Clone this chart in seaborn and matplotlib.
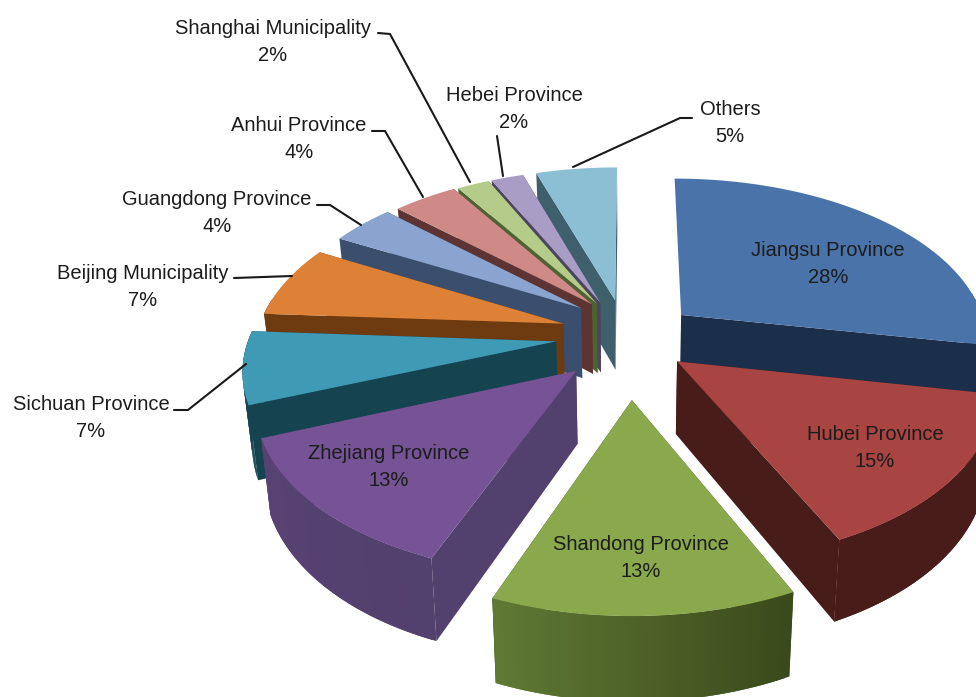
import numpy as np
import matplotlib
matplotlib.use('Agg')
import matplotlib.pyplot as plt
from matplotlib.patches import Polygon
import seaborn as sns

# Data
regions = ['Jiangsu Province', 'Hubei Province', 'Shandong Province', 'Zhejiang Province',
           'Sichuan Province', 'Beijing Municipality', 'Guangdong Province', 'Anhui Province',
           'Shanghai Municipality', 'Hebei Province', 'Others']
shares = [28, 15, 13, 13, 7, 7, 4, 4, 2, 2, 5]

# Styles
top_colors = ['#4a74a9', '#a84442', '#8aa84c', '#755394', '#3f9ab5', '#dc8136',
              '#8aa3cf', '#cf8a88', '#b5cb8a', '#a99cc5', '#8cbed4']
side_colors = ['#1b2f4a', '#481c18', '#3b4a1c', '#52406e', '#164350', '#6e3a10',
               '#3a4e6e', '#5e3432', '#4e6232', '#4c4560', '#3e5f6c']
rim_end_colors = ['#1b2f4a', '#481c18', '#607a34', '#584274', '#164350', '#6e3a10',
                  '#3a4e6e', '#5e3432', '#4e6232', '#4c4560', '#3e5f6c']
explode_x = [0.17, 0.15, 0.006, -0.17, -0.24, -0.22, -0.164, -0.128, -0.112, -0.10, -0.05]
explode_y = [0.205, -0.08, -0.30, -0.135, 0.04, 0.15, 0.25, 0.275, 0.28, 0.285, 0.30]

label_pos = [(828, 264), (875, 448), (641, 558), (389, 467), (91, 418), (143, 287),
             (217, 213), (299, 139), (273, 42), (514, 109), (730, 123)]
leaders = {
    'Shanghai Municipality': [(378, 33), (390, 34), (470, 182)],
    'Anhui Province': [(372, 131), (385, 131), (423, 197)],
    'Guangdong Province': [(317, 205), (330, 205), (361, 225)],
    'Beijing Municipality': [(234, 278), (292, 276)],
    'Sichuan Province': [(174, 410), (188, 410), (246, 364)],
    'Hebei Province': [(497, 136), (503, 176)],
    'Others': [(692, 118), (680, 118), (573, 167)],
}

# Projection of the pie plane onto the picture
cx, cy = 630, 348
rx, ry = 310, 166
persp = 0.15
depth = 72


def project(gx, gy, z=0.0):
    s = 1 / (1 + persp * gy)
    return cx + rx * gx * s * (1 - 0.025 * z), cy - ry * gy * s + depth * z * s ** 0.8


sns.set_theme(style='white')
plt.rcParams['font.family'] = ['Liberation Sans', 'DejaVu Sans']

fig, ax = plt.subplots(figsize=(9.76, 6.97), dpi=100)
fig.subplots_adjust(left=0, right=1, bottom=0, top=1)
ax.set_xlim(0, 976)
ax.set_ylim(697, 0)
ax.axis('off')

palette = sns.color_palette(top_colors)
edges = np.cumsum([0] + shares) / sum(shares) * 2 * np.pi
mids = (edges[:-1] + edges[1:]) / 2

# back slices first so the front ones cover them
order = np.argsort([-(explode_y[i] + 0.5 * np.cos(mids[i])) for i in range(len(shares))])
for i in order:
    ox, oy = explode_x[i], explode_y[i]
    t = np.linspace(edges[i], edges[i + 1], 60)
    gx = ox + np.sin(t)
    gy = oy + np.cos(t)
    rim_top = [project(a, b) for a, b in zip(gx, gy)]
    rim_bot = [project(a, b, 1) for a, b in zip(gx, gy)]
    apex_top = project(ox, oy)
    apex_bot = project(ox, oy, 1)

    # the first slice hides its 12 o'clock wall
    if i > 0:
        ax.add_patch(Polygon([apex_top, rim_top[0], rim_bot[0], apex_bot], fc=side_colors[i], ec='none'))
    ax.add_patch(Polygon([apex_top, rim_top[-1], rim_bot[-1], apex_bot], fc=side_colors[i], ec='none'))

    # outer wall in overlapping strips for the shading, only where it faces the viewer
    shades = sns.blend_palette([side_colors[i], rim_end_colors[i]], len(t) - 1)
    for k in range(len(t) - 2, -1, -1):
        if np.cos(t[k]) > 0.15:
            continue
        last = min(k + 2, len(t) - 1)
        strip = [rim_top[k], rim_top[last], rim_bot[last], rim_bot[k]]
        ax.add_patch(Polygon(strip, fc=shades[k], ec='none'))

    ax.add_patch(Polygon([apex_top] + rim_top, fc=palette[i], ec='none'))

for name, share, (x, y) in zip(regions, shares, label_pos):
    ax.text(x, y, f'{name}\n{share}%', ha='center', va='center', fontsize=14.5,
            color='#1c1c1c', linespacing=1.55)

for name, pts in leaders.items():
    ax.plot([p[0] for p in pts], [p[1] for p in pts], color='#1a1a1a', lw=1.5)

fig.savefig('out.png', dpi=100)
